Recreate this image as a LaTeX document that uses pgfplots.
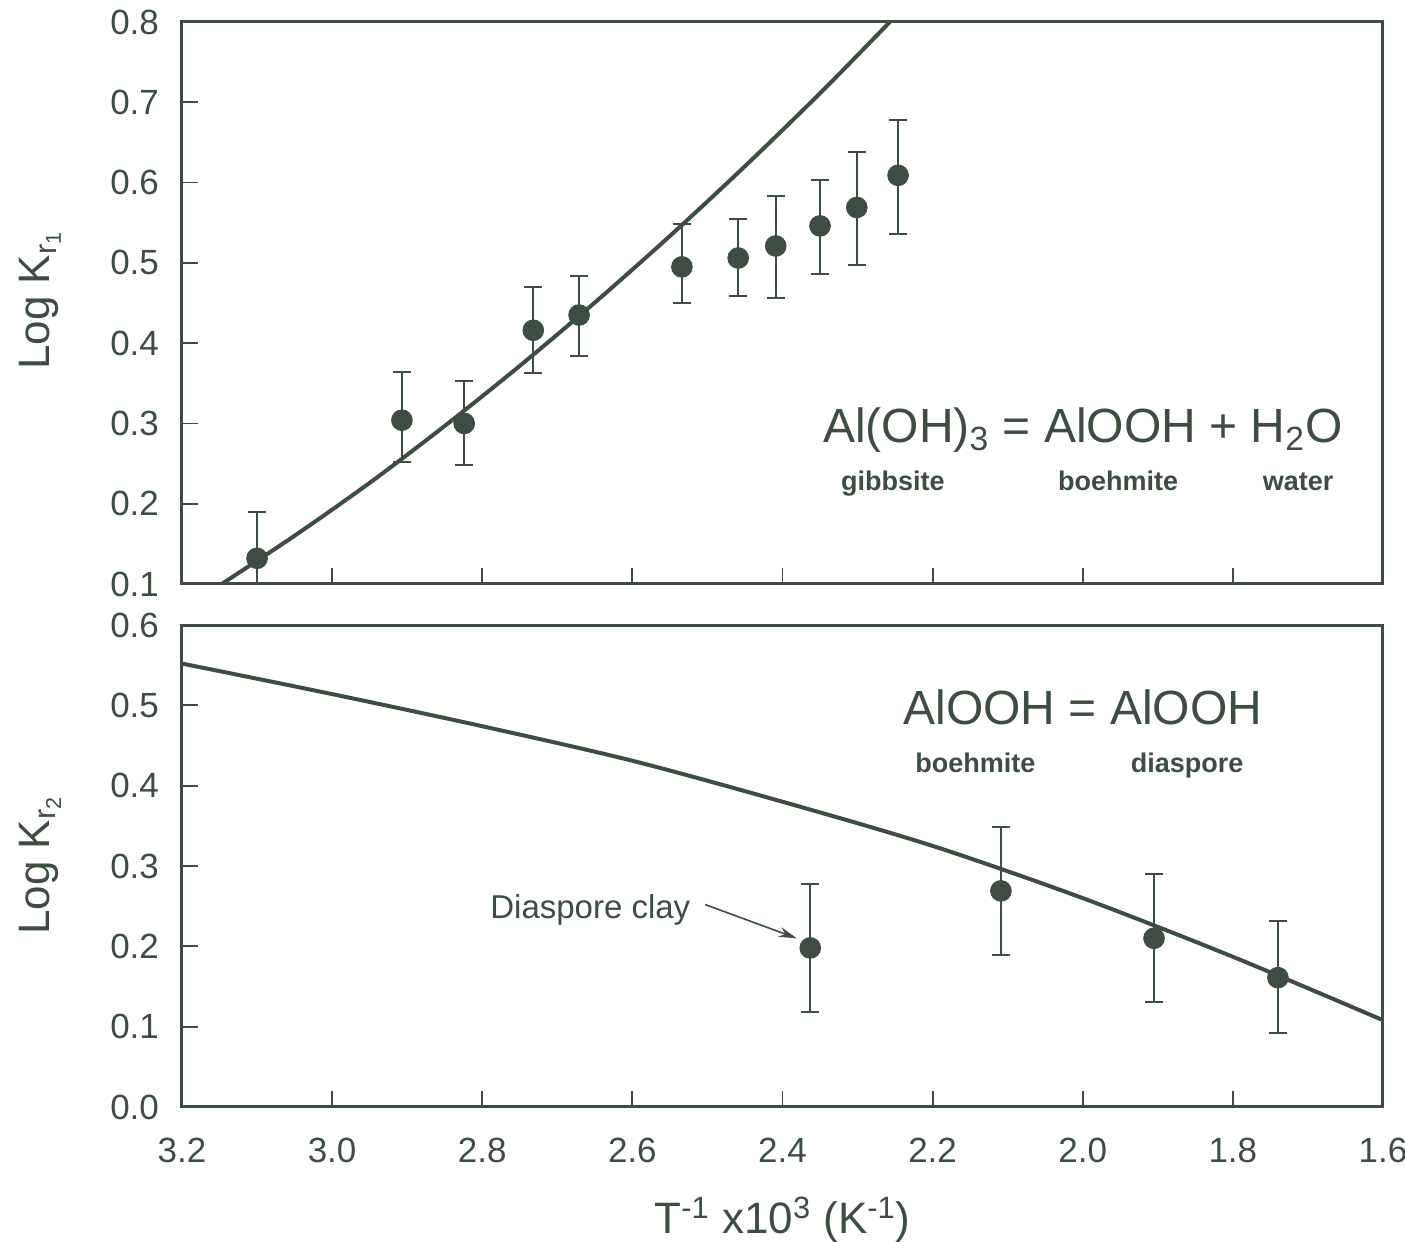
\documentclass[border=0pt]{standalone}
\usepackage{fontspec}
\setmainfont{Liberation Sans}
\usepackage{pgfplots}
\usepackage{pgfplotstable}
\pgfplotsset{compat=1.18}
\usetikzlibrary{arrows.meta}
\definecolor{ink}{RGB}{62,76,66}

\pgfplotstableread{
x     y     ep    em
3.100 0.132 0.058 0.058
2.907 0.304 0.060 0.052
2.824 0.300 0.053 0.052
2.732 0.416 0.054 0.053
2.671 0.435 0.049 0.051
2.534 0.495 0.053 0.045
2.459 0.506 0.049 0.047
2.409 0.521 0.062 0.065
2.350 0.546 0.057 0.060
2.301 0.569 0.069 0.072
2.246 0.609 0.069 0.073
}\topdata

\pgfplotstableread{
x     y     ep    em
2.363 0.198 0.080 0.080
2.109 0.269 0.080 0.080
1.905 0.210 0.080 0.079
1.740 0.161 0.071 0.069
}\botdata

\pgfplotsset{
  panel/.style={
    scale only axis, width=600.5pt,
    xmin=1.6, xmax=3.2, x dir=reverse,
    xtick={1.6,1.8,2.0,2.2,2.4,2.6,2.8,3.0,3.2},
    tick align=inside, tick pos=left,
    major tick length=8pt,
    axis line style={line width=1.5pt, ink},
    every tick/.style={ink, line width=0.9pt},
    tick label style={font=\fontsize{17.5}{21}\selectfont, text=ink},
    /pgf/number format/assume math mode=true,
    yticklabel style={xshift=-8pt, /pgf/number format/.cd, fixed, fixed zerofill, precision=1},
    xticklabel style={yshift=-12pt, /pgf/number format/.cd, fixed, fixed zerofill, precision=1},
    ylabel style={font=\fontsize{22}{26}\selectfont, text=ink, anchor=center},
  },
  pts/.style={ink, only marks, mark=*, mark size=5.2pt, mark options={fill=ink, draw=ink},
    error bars/.cd, y dir=both, y explicit,
    error bar style={line width=1.2pt, ink},
    error mark options={rotate=90, mark size=4.5pt, line width=1pt, ink}},
}

\begin{document}
\begin{tikzpicture}
\useasboundingbox (0pt,0pt) rectangle (702.5pt,621pt);

\begin{axis}[panel,
  at={(91pt,329pt)}, anchor=south west, height=281pt,
  ymin=0.1, ymax=0.8,
  ytick={0.1,0.2,0.3,0.4,0.5,0.6,0.7,0.8},
  xticklabels={},
  ylabel={Log K\textsubscript{r\textsubscript{1}}},
  ylabel style={at={(axis description cs:-0.118,0.505)}},
]
\addplot[ink, line width=2pt, smooth] coordinates {
(3.147,0.100) (3.047,0.162) (2.947,0.228) (2.847,0.299) (2.747,0.374)
(2.647,0.453) (2.547,0.536) (2.447,0.623) (2.347,0.714) (2.257,0.800)};
\addplot[pts] table[x=x, y=y, y error plus=ep, y error minus=em] {\topdata};
\node[anchor=base, text=ink, font=\fontsize{24}{28}\selectfont] at (axis cs:2.0,0.276)
  {Al(OH)\textsubscript{3} = AlOOH + H\textsubscript{2}O};
\node[anchor=base, text=ink, font=\fontsize{13.5}{15}\selectfont\bfseries] at (axis cs:2.253,0.217) {gibbsite};
\node[anchor=base, text=ink, font=\fontsize{13.5}{15}\selectfont\bfseries] at (axis cs:1.953,0.217) {boehmite};
\node[anchor=base, text=ink, font=\fontsize{13.5}{15}\selectfont\bfseries] at (axis cs:1.713,0.217) {water};
\end{axis}

\begin{axis}[panel,
  at={(91pt,67.5pt)}, anchor=south west, height=241pt,
  ymin=0, ymax=0.6,
  ytick={0,0.1,0.2,0.3,0.4,0.5,0.6},
  xticklabel style={/pgf/number format/.cd, fixed, fixed zerofill, precision=1},
  xticklabels={3.2,3.0,2.8,2.6,2.4,2.2,2.0,1.8,1.6},
  xtick={3.2,3.0,2.8,2.6,2.4,2.2,2.0,1.8,1.6},
  ylabel={Log K\textsubscript{r\textsubscript{2}}},
  ylabel style={at={(axis description cs:-0.118,0.502)}},
  xlabel={T\textsuperscript{-1} x10\textsuperscript{3} (K\textsuperscript{-1})},
  xlabel style={at={(axis description cs:0.5,-0.262)}, anchor=base, font=\fontsize{22}{26}\selectfont, text=ink},
]
\addplot[ink, line width=2pt, smooth] coordinates {
(3.2,0.552) (3.0,0.514) (2.8,0.474) (2.6,0.431) (2.4,0.380)
(2.2,0.325) (2.0,0.260) (1.8,0.187) (1.6,0.108)};
\addplot[pts] table[x=x, y=y, y error plus=ep, y error minus=em] {\botdata};
\node[anchor=base, text=ink, font=\fontsize{24}{28}\selectfont] at (axis cs:2.0,0.476) {AlOOH = AlOOH};
\node[anchor=base, text=ink, font=\fontsize{13.5}{15}\selectfont\bfseries] at (axis cs:2.143,0.417) {boehmite};
\node[anchor=base, text=ink, font=\fontsize{13.5}{15}\selectfont\bfseries] at (axis cs:1.861,0.417) {diaspore};
\node[anchor=base, text=ink, font=\fontsize{16.5}{19}\selectfont] at (axis cs:2.656,0.235) {Diaspore clay};
\draw[ink, line width=0.8pt, -{Stealth[length=9pt,width=5pt]}] (axis cs:2.503,0.252) -- (axis cs:2.381,0.210);
\end{axis}
\end{tikzpicture}
\end{document}
